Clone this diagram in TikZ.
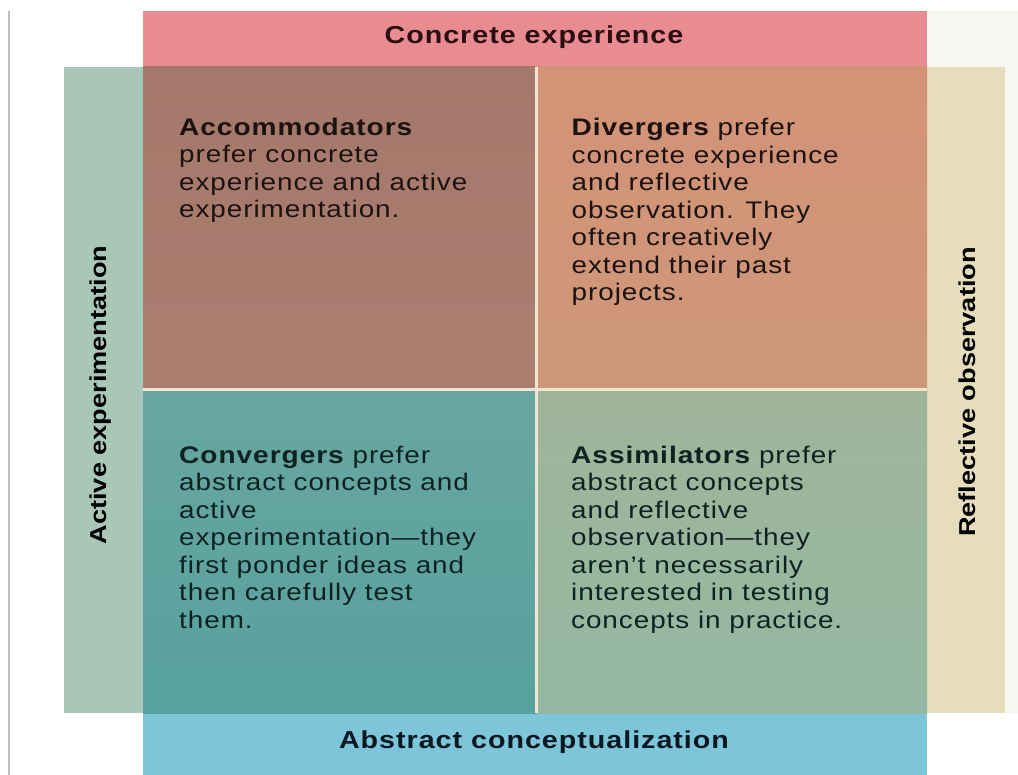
\documentclass[tikz,border=0pt]{standalone}
\usepackage{fontspec}
\setmainfont{Liberation Sans}[FakeStretch=1.16, LetterSpace=4]
\newfontfamily\headfont{Liberation Sans}[FakeStretch=1.17, LetterSpace=4]
\newfontfamily\sidefont{Liberation Sans}[FakeStretch=1.18]

% band colours
\definecolor{concreteband}{HTML}{E98C91}
\definecolor{activeband}{HTML}{A8C7B8}
\definecolor{reflectband}{HTML}{E5DDBB}
\definecolor{abstractband}{HTML}{7DC6DA}
\definecolor{paper}{HTML}{F7F6F0}
\definecolor{rulegray}{HTML}{BDBDBD}
% quadrant colours
\definecolor{accTop}{HTML}{A4796B}
\definecolor{accBot}{HTML}{AA7F70}
\definecolor{divTop}{HTML}{D49377}
\definecolor{divBot}{HTML}{CD977A}
\definecolor{conTop}{HTML}{68A6A0}
\definecolor{conBot}{HTML}{58A19E}
\definecolor{assTop}{HTML}{9FB59A}
\definecolor{assBot}{HTML}{94B8A2}
\definecolor{divider}{HTML}{EFE7D3}
% text colours
\definecolor{inkwarm}{HTML}{1C1210}
\definecolor{inkcool}{HTML}{0E2321}
\definecolor{inkred}{HTML}{2A0E10}
\definecolor{inkblue}{HTML}{0A1822}

\tikzset{
  quadtext/.style={anchor=north west, inner sep=0pt, align=left,
    font=\fontsize{24}{27.5}\selectfont},
  bandlabel/.style={anchor=base, inner sep=0pt,
    font=\headfont\bfseries\fontsize{24.5}{28}\selectfont},
  sidelabel/.style={anchor=base, inner sep=0pt, rotate=90,
    font=\sidefont\bfseries\fontsize{23}{27}\selectfont},
  divline/.style={draw=divider, line width=3pt},
}

\begin{document}
\begin{tikzpicture}[x=1pt,y=-1pt]
\useasboundingbox (0,0) rectangle (1018,775);
\fill[white] (0,0) rectangle (1018,775);

% page edge and faint margin on the right
\fill[paper] (927,11) rectangle (1018,67);
\fill[paper] (1005,67) rectangle (1018,713);
\draw[rulegray, line width=2pt] (8.5,11) -- (8.5,775);

% outer bands
\fill[concreteband] (143,11) rectangle (927,67);
\fill[activeband]   (64,67) rectangle (143,713);
\fill[reflectband]  (927,67) rectangle (1005,713);
\fill[abstractband] (143,713) rectangle (927,775);

% four quadrants
\shade[top color=accTop, bottom color=accBot] (143,67) rectangle (536,389);
\shade[top color=divTop, bottom color=divBot] (536,67) rectangle (927,389);
\shade[top color=conTop, bottom color=conBot] (143,389) rectangle (536,713);
\shade[top color=assTop, bottom color=assBot] (536,389) rectangle (927,713);

% dividing lines
\draw[divline] (536,67) -- (536,713);
\draw[divline] (143,389.5) -- (927,389.5);

% axis labels
\node[bandlabel, text=inkred]  (ce) at (534,43.3) {Concrete experience};
\node[bandlabel, text=inkblue] (ac) at (534,748.3) {Abstract conceptualization};
\node[sidelabel, text=black] (ae) at (106.5,395) {Active experimentation};
\node[sidelabel, text=black] (ro) at (975,392) {Reflective observation};

% quadrant descriptions
\node[quadtext, text=inkwarm] (acc) at (179,117.5)
  {{\headfont\bfseries Accommodators}\\
   prefer concrete\\
   experience and active\\
   experimentation.};
\node[quadtext, text=inkwarm] (div) at (571.5,118.2)
  {{\headfont\bfseries Divergers} prefer\\
   concrete experience\\
   and reflective\\
   observation. They\\
   often creatively\\
   extend their past\\
   projects.};
\node[quadtext, text=inkcool] (con) at (179,445.8)
  {{\headfont\bfseries Convergers} prefer\\
   abstract concepts and\\
   active\\
   experimentation---they\\
   first ponder ideas and\\
   then carefully test\\
   them.};
\node[quadtext, text=inkcool] (ass) at (571,445.8)
  {{\headfont\bfseries Assimilators} prefer\\
   abstract concepts\\
   and reflective\\
   observation---they\\
   aren't necessarily\\
   interested in testing\\
   concepts in practice.};
\end{tikzpicture}
\end{document}
